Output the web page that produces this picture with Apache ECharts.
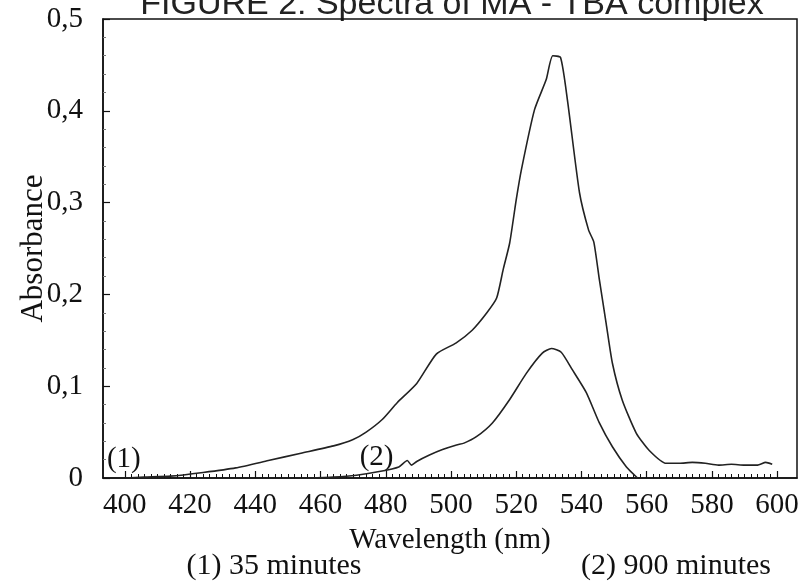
<!DOCTYPE html>
<html>
<head>
<meta charset="utf-8">
<script src="https://cdn.jsdelivr.net/npm/echarts@6/dist/echarts.min.js"></script>
<style>
  html, body { margin: 0; padding: 0; background: #fff; }
  #chart { width: 802px; height: 582px; }
</style>
</head>
<body>
<div id="chart"></div>
<script>
// Spectrum (1): 35 minutes
const wavelength1 = [400, 406, 414, 424, 434, 444, 454, 464, 470, 474, 479, 483.5, 489.5, 495.5, 501.5, 506.5, 511, 514, 516, 518, 520, 521.6, 525.6, 529.2, 531.2, 533.6, 535.7, 539.4, 542.2, 543.8, 545.5, 547.6, 549.5, 552.5, 556.8, 560.8, 566, 570, 574, 578, 582, 586, 590, 594, 596.5, 598.5];
const absorbance1 = [0.000, 0.001, 0.002, 0.006, 0.011, 0.019, 0.027, 0.035, 0.042, 0.050, 0.064, 0.082, 0.103, 0.135, 0.147, 0.161, 0.180, 0.196, 0.227, 0.256, 0.303, 0.336, 0.401, 0.434, 0.460, 0.458, 0.412, 0.311, 0.270, 0.257, 0.216, 0.168, 0.125, 0.085, 0.049, 0.030, 0.016, 0.016, 0.017, 0.016, 0.014, 0.015, 0.014, 0.014, 0.017, 0.015];

// Spectrum (2): 900 minutes
const wavelength2 = [456, 464, 471, 478, 484, 486.6, 487.9, 489.5, 493.4, 497.4, 501.7, 504, 507.8, 512.7, 517.9, 523.1, 528, 530.8, 533.8, 537.2, 541.5, 545.5, 549.5, 553.8, 557.2];
const absorbance2 = [0.000, 0.001, 0.003, 0.007, 0.012, 0.019, 0.014, 0.018, 0.025, 0.031, 0.036, 0.038, 0.045, 0.060, 0.085, 0.114, 0.136, 0.141, 0.137, 0.118, 0.093, 0.060, 0.034, 0.012, 0.000];

// Axis ticks
const xMajorTicks = [400, 420, 440, 460, 480, 500, 520, 540, 560, 580, 600];
const xMinorTicks = [];
for (let w = 400; w <= 600; w += 2) xMinorTicks.push(w);

const serif = '"Liberation Serif", "Times New Roman", serif';
const ink = '#111';

const chart = echarts.init(document.getElementById('chart'), null, { renderer: 'canvas' });

const pairs = (xs, ys) => xs.map((x, i) => [x, ys[i]]);

chart.setOption({
  animation: false,
  backgroundColor: '#fff',
  grid: {
    left: 103, right: 5, top: 19, bottom: 104,
    outerBoundsMode: 'none',
    containLabel: false,
    show: true, borderColor: ink, borderWidth: 1.5, backgroundColor: 'transparent'
  },
  xAxis: [{
    type: 'value',
    min: 393.3, max: 606.1,
    axisLine: { show: true, lineStyle: { color: ink, width: 1.5 } },
    axisTick: { show: true, inside: true, length: 7, customValues: xMajorTicks, lineStyle: { color: ink, width: 1.2 } },
    axisLabel: { customValues: xMajorTicks, fontFamily: serif, fontSize: 29, color: ink, margin: 13 },
    splitLine: { show: false },
    name: 'Wavelength (nm)',
    nameLocation: 'middle',
    nameGap: 48,
    nameMoveOverlap: false,
    nameTextStyle: { fontFamily: serif, fontSize: 29, color: ink }
  }, {
    type: 'value',
    position: 'bottom',
    min: 393.3, max: 606.1,
    axisLine: { show: false },
    axisTick: { show: true, inside: true, length: 4, customValues: xMinorTicks, lineStyle: { color: ink, width: 1 } },
    axisLabel: { show: false },
    splitLine: { show: false }
  }],
  yAxis: {
    type: 'value',
    min: 0, max: 0.5, interval: 0.1,
    axisLine: { show: true, lineStyle: { color: ink, width: 1.5 } },
    axisTick: { show: true, inside: true, length: 7, lineStyle: { color: ink, width: 1.2 } },
    minorTick: { show: true, splitNumber: 5, length: 3, lineStyle: { color: '#777', width: 1 } },
    axisLabel: {
      fontFamily: serif, fontSize: 29, color: ink, margin: 20,
      formatter: v => (v === 0 ? '0' : v.toFixed(1).replace('.', ','))
    },
    splitLine: { show: false },
    name: 'Absorbance',
    nameLocation: 'middle',
    nameRotate: 90,
    nameGap: 54,
    nameMoveOverlap: false,
    nameTextStyle: { fontFamily: serif, fontSize: 31, color: ink }
  },
  series: [{
    name: '(1) 35 minutes',
    type: 'line',
    data: pairs(wavelength1, absorbance1),
    showSymbol: false,
    smooth: 0.2,
    lineStyle: { color: '#222', width: 1.6 }
  }, {
    name: '(2) 900 minutes',
    type: 'line',
    data: pairs(wavelength2, absorbance2),
    showSymbol: false,
    smooth: 0.2,
    lineStyle: { color: '#222', width: 1.6 }
  }]
});

// Curve tags and captions
const tag1 = chart.convertToPixel({ gridIndex: 0 }, [399.7, 0.02]);
const tag2 = chart.convertToPixel({ gridIndex: 0 }, [477.2, 0.022]);
const textStyle = (text, x, y, size, family, align) => ({
  type: 'text', x: x, y: y, silent: true,
  style: { text: text, font: size + 'px ' + family, fill: ink, textAlign: align || 'center', textVerticalAlign: 'middle' }
});

chart.setOption({
  graphic: [
    {
      type: 'text', x: 452, y: 22, silent: true, z: -1,
      style: { text: 'FIGURE 2: Spectra of MA - TBA complex', font: '34px "Liberation Sans", Arial, sans-serif', fill: '#222', textAlign: 'center', textVerticalAlign: 'bottom' }
    },
    textStyle('(1)', tag1[0], tag1[1], 29, serif),
    textStyle('(2)', tag2[0], tag2[1], 29, serif),
    textStyle('(1) 35 minutes', 274, 566, 30, serif),
    textStyle('(2) 900 minutes', 676, 566, 30, serif)
  ]
});
</script>
</body>
</html>
